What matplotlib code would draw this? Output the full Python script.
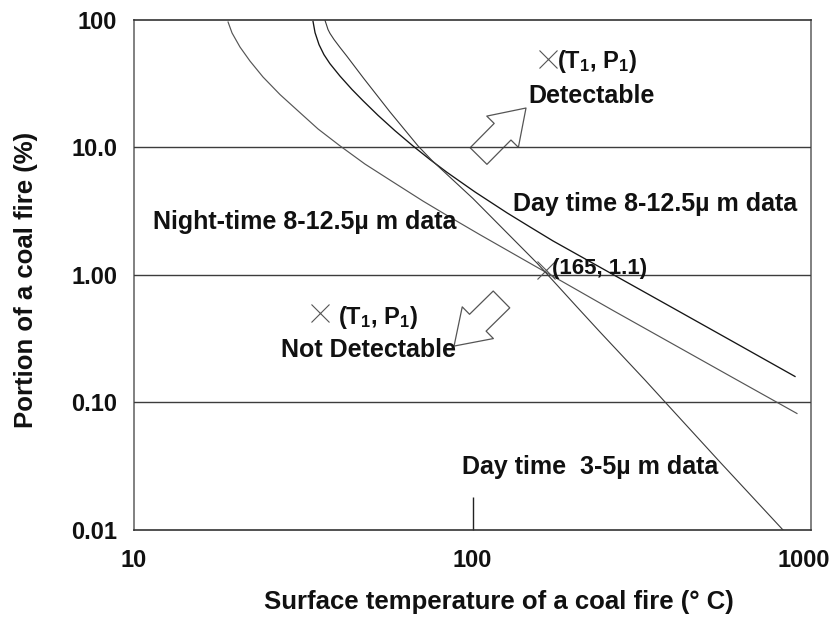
import matplotlib
matplotlib.use("Agg")
import matplotlib.pyplot as plt
from matplotlib.ticker import FixedLocator, NullLocator, FixedFormatter
from matplotlib.transforms import ScaledTranslation

plt.rcParams['font.family'] = ['Liberation Sans', 'DejaVu Sans']
plt.rcParams['font.weight'] = 'bold'
plt.rcParams['mathtext.fontset'] = 'custom'
plt.rcParams['mathtext.rm'] = 'Liberation Sans:bold'
plt.rcParams['mathtext.bf'] = 'Liberation Sans:bold'
plt.rcParams['mathtext.it'] = 'Liberation Sans:bold'

# Fraction of pixel covered by a coal fire needed for detection, vs. fire temperature
night_T = [18.96, 19.48, 20.56, 22.0, 24.05, 27.0, 30.3, 34.97, 40.6, 48.1, 57.0,
           71.4, 85.8, 105.2, 150.8, 185.2, 260, 375.5, 588, 909]
night_P = [96.4, 79.1, 61.4, 47.7, 35.7, 26.0, 19.7, 13.97, 10.3, 7.42, 5.56,
           3.80, 2.84, 2.07, 1.20, 0.881, 0.527, 0.305, 0.1565, 0.082]

day_lw_T = [33.8, 34.26, 35.2, 36.4, 37.9, 40.6, 44.06, 47.5, 52.6, 59.0, 66.7,
            74.9, 84.1, 101.7, 126.5, 147.9, 172.9, 254.8, 375.5, 588.4, 897]
day_lw_P = [97.2, 79.6, 64.1, 53.5, 45.5, 36.3, 28.5, 23.25, 17.86, 13.55, 10.28,
            8.04, 6.38, 4.48, 3.07, 2.38, 1.85, 1.04, 0.585, 0.300, 0.160]

day_mw_T = [36.67, 37.05, 37.42, 37.94, 38.98, 40.6, 42.5, 47.6, 57.05, 69.0, 75.9,
            84.1, 100.3, 131.7, 155.1, 203.6, 238.1, 323.3, 370.4, 538.5, 826.8]
day_mw_P = [99.1, 91.4, 84.2, 78.4, 70.3, 60.9, 52.2, 35.1, 19.0, 10.3, 7.91,
            6.14, 3.98, 1.92, 1.24, 0.561, 0.357, 0.150, 0.101, 0.0341, 0.01]

# Reference points
thr_T, thr_P = 165, 1.1
det_T, det_P = 167, 49.4
undet_T, undet_P = 35.4, 0.503

x_ticks = [10, 100, 1000]
x_labels = ['10', '100', '1000']
y_ticks = [0.01, 0.1, 1, 10, 100]
y_labels = ['0.01', '0.10', '1.00', '10.0', '100']
grid_levels = [0.1, 1, 10]

fs = 18
tick_fs = 17
label_fs = 18.5

fig = plt.figure(figsize=(8.34, 6.19), dpi=100)
ax = fig.add_axes([0.1607, 0.1438, 0.9724 - 0.1607, 0.9677 - 0.1438])
ax.set_xscale('log')
ax.set_yscale('log')
ax.set_xlim(10, 1000)
ax.set_ylim(0.01, 100)

for lv in grid_levels:
    ax.axhline(lv, color='#3c3c3c', lw=1.0, zorder=3)

ax.plot(night_T, night_P, color='#555555', lw=0.85, zorder=4)
ax.plot(day_lw_T, day_lw_P, color='#151515', lw=0.95, zorder=4)
ax.plot(day_mw_T, day_mw_P, color='#3a3a3a', lw=0.8, zorder=4)

mk = dict(marker='x', color='#555555', ms=13, mew=0.8, ls='none', zorder=5)
ax.plot([thr_T], [thr_P], **mk)
ax.plot([det_T], [det_P], **mk)
ax.plot([undet_T], [undet_P], **mk)

# Hollow block arrows
arrow_style = 'simple,head_length=24,head_width=32,tail_width=17'
ax.annotate('', xy=(143.9, 20.4), xytext=(104.2, 8.57),
            arrowprops=dict(arrowstyle=arrow_style, mutation_scale=1, fc='white',
                            ec='#555555', lw=0.9, shrinkA=0, shrinkB=0), zorder=2)
ax.annotate('', xy=(88.2, 0.277), xytext=(121.8, 0.643),
            arrowprops=dict(arrowstyle=arrow_style, mutation_scale=1, fc='white',
                            ec='#555555', lw=0.9, shrinkA=0, shrinkB=0), zorder=2)

# Curve and point labels
txt = dict(fontsize=fs, fontweight='bold', color='#111111', zorder=6,
           va='center', ha='left')
ax.text(0.028, 0.604, 'Night-time 8-12.5\u00b5 m data', transform=ax.transAxes, **txt)
ax.text(0.560, 0.639, 'Day time 8-12.5\u00b5 m data', transform=ax.transAxes, **txt)
ax.text(0.4845, 0.1235, 'Day time  3-5\u00b5 m data', transform=ax.transAxes, **txt)
ax.text(0.6174, 0.5137, '(165, 1.1)', transform=ax.transAxes,
        **{**txt, 'fontsize': 16})
ax.text(0.6248, 0.918, r'(T$_\mathbf{1}$, P$_\mathbf{1}$)', transform=ax.transAxes,
        **{**txt, 'fontsize': 17})
ax.text(0.582, 0.851, 'Detectable', transform=ax.transAxes, **txt)
ax.text(0.3013, 0.416, r'(T$_\mathbf{1}$, P$_\mathbf{1}$)', transform=ax.transAxes,
        **{**txt, 'fontsize': 17})
ax.text(0.217, 0.353, 'Not Detectable', transform=ax.transAxes, **txt)

ax.xaxis.set_major_locator(FixedLocator(x_ticks))
ax.xaxis.set_major_formatter(FixedFormatter(x_labels))
ax.xaxis.set_minor_locator(NullLocator())
ax.yaxis.set_major_locator(FixedLocator(y_ticks))
ax.yaxis.set_major_formatter(FixedFormatter(y_labels))
ax.yaxis.set_minor_locator(NullLocator())

ax.tick_params(axis='y', length=0, pad=12, labelsize=tick_fs, colors='#111111')
ax.tick_params(axis='x', direction='in', length=24, width=1.0, color='#222222',
               pad=14, labelsize=tick_fs, labelcolor='#111111')
xt = ax.xaxis.get_major_ticks()
xt[0].tick1line.set_visible(False)
xt[-1].tick1line.set_visible(False)
last = xt[-1].label1
last.set_transform(last.get_transform() + ScaledTranslation(-0.07, 0, fig.dpi_scale_trans))
for lab in ax.get_xticklabels() + ax.get_yticklabels():
    lab.set_fontweight('bold')

for side, col, w in [('top', '#333333', 1.2), ('bottom', '#333333', 1.2),
                     ('left', '#808080', 1.4), ('right', '#808080', 1.4)]:
    ax.spines[side].set_color(col)
    ax.spines[side].set_linewidth(w)

ax.set_xlabel('Surface temperature of a coal fire (\u00b0 C)', fontsize=label_fs,
              fontweight='bold', color='#111111')
ax.set_ylabel('Portion of a coal fire (%)', fontsize=label_fs, fontweight='bold',
              color='#111111')
ax.xaxis.set_label_coords(0.539, -0.118)
ax.yaxis.set_label_coords(-0.142, 0.49)

fig.savefig('out.png', dpi=100)
